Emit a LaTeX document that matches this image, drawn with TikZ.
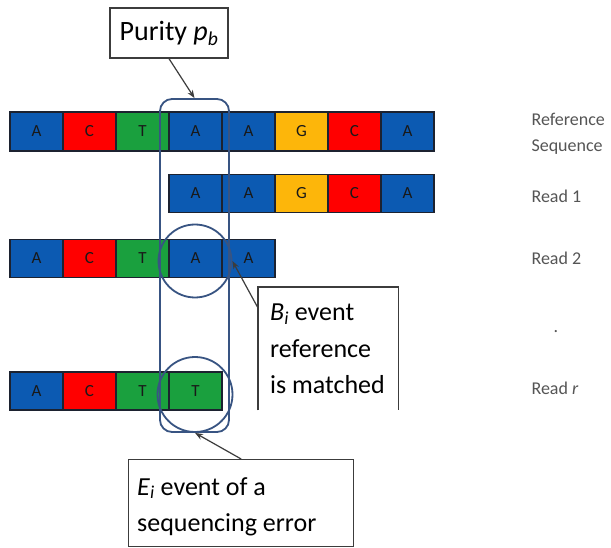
\documentclass[tikz,border=0pt]{standalone}
\usepackage{fontspec}
\setmainfont{Carlito}
\usetikzlibrary{arrows.meta}
\definecolor{cblue}{RGB}{12,90,178}
\definecolor{cred}{RGB}{255,0,0}
\definecolor{cgreen}{RGB}{26,160,62}
\definecolor{cyel}{RGB}{253,182,10}
\definecolor{cedge}{RGB}{28,34,48}
\definecolor{ccol}{RGB}{56,84,130}
\definecolor{clab}{RGB}{85,85,85}
\definecolor{cbox}{RGB}{60,60,60}
\tikzset{
  cell/.style={draw=cedge, line width=1.3pt, minimum width=53pt, minimum height=38pt, inner sep=0pt, font=\fontsize{17}{17}\selectfont, text=black!90},
  colbox/.style={draw=ccol, line width=1.8pt, rounded corners=12pt, minimum width=69pt, minimum height=333pt, inner sep=0pt},
  circ/.style={draw=ccol, line width=1.8pt, circle, minimum size=73pt, inner sep=0pt},
  callout/.style={draw=cbox, line width=1.3pt, inner sep=0pt, anchor=north west},
  big/.style={font=\fontsize{26}{36.5}\selectfont, align=left},
  lab/.style={anchor=base west, text=clab, font=\fontsize{18}{18}\selectfont},
  pointer/.style={draw=cbox, line width=1.2pt, -{Stealth[length=8pt,width=6pt]}}
}
\begin{document}
\begin{tikzpicture}[x=1pt,y=-1pt]
\useasboundingbox[fill=white] (0,0) rectangle (611,548);
% reference sequence
\foreach \l/\c [count=\i] in {A/cblue,C/cred,T/cgreen,A/cblue,A/cblue,G/cyel,C/cred,A/cblue}
  \node[cell,fill=\c,minimum height=39pt] (r0-\i) at ({36.5+53*(\i-1)},131.5) {\l};
% read 1
\foreach \l/\c [count=\i] in {A/cblue,A/cblue,G/cyel,C/cred,A/cblue}
  \node[cell,fill=\c] (r1-\i) at ({195.5+53*(\i-1)},193.5) {\l};
% read 2
\foreach \l/\c [count=\i] in {A/cblue,C/cred,T/cgreen,A/cblue,A/cblue}
  \node[cell,fill=\c] (r2-\i) at ({36.5+53*(\i-1)},258.5) {\l};
% read r
\foreach \l/\c [count=\i] in {A/cblue,C/cred,T/cgreen,T/cgreen}
  \node[cell,fill=\c] (rr-\i) at ({36.5+53*(\i-1)},391) {\l};
% column and circles
\node[colbox] (col) at (194.5,265.5) {};
\node[circ] (c2) at (195,261) {};
\node[circ,minimum size=75pt] (cr) at (195,394.5) {};
% labels
\node[lab] (lref) at (528,126) {Reference};
\node[lab] (lseq) at (528,152) {Sequence};
\node[lab] (l1) at (528,203) {Read 1};
\node[lab] (l2) at (528,265) {Read 2};
\node[lab] (ldot) at (550,333) {.};
\node[lab] (lr) at (528,395) {Read \textit{r}};
% purity callout
\node[callout, minimum width=118pt, minimum height=50pt, anchor=center, font=\fontsize{28}{30}\selectfont] (pur) at (169,33) {Purity \textit{p}\textsubscript{\textit{b}}};
\draw[pointer] (pur.south) -- (col.north);
% B callout (open at the bottom)
\node[anchor=north west, minimum width=140pt, minimum height=123pt, inner sep=0pt] (bbox) at (258,287) {};
\draw[cbox, line width=1.3pt] (bbox.south west) -- (bbox.north west) -- (bbox.north east) -- (bbox.south east);
\node[big, anchor=north west, inner sep=0pt] (btext) at (270,304) {\textit{B}\textsubscript{\textit{i}} event\\reference\\is matched};
\coordinate (bstart) at (258,308);
\draw[pointer] (bstart) -- (c2.east);
% E callout
\node[callout, minimum width=225pt, minimum height=87pt] (ebox) at (128,459) {};
\node[big, anchor=north west, inner sep=0pt] (etext) at (137,477) {\textit{E}\textsubscript{\textit{i}} event of a\\sequencing error};
\draw[pointer] (ebox.north) -- (cr.south);
\end{tikzpicture}
\end{document}
